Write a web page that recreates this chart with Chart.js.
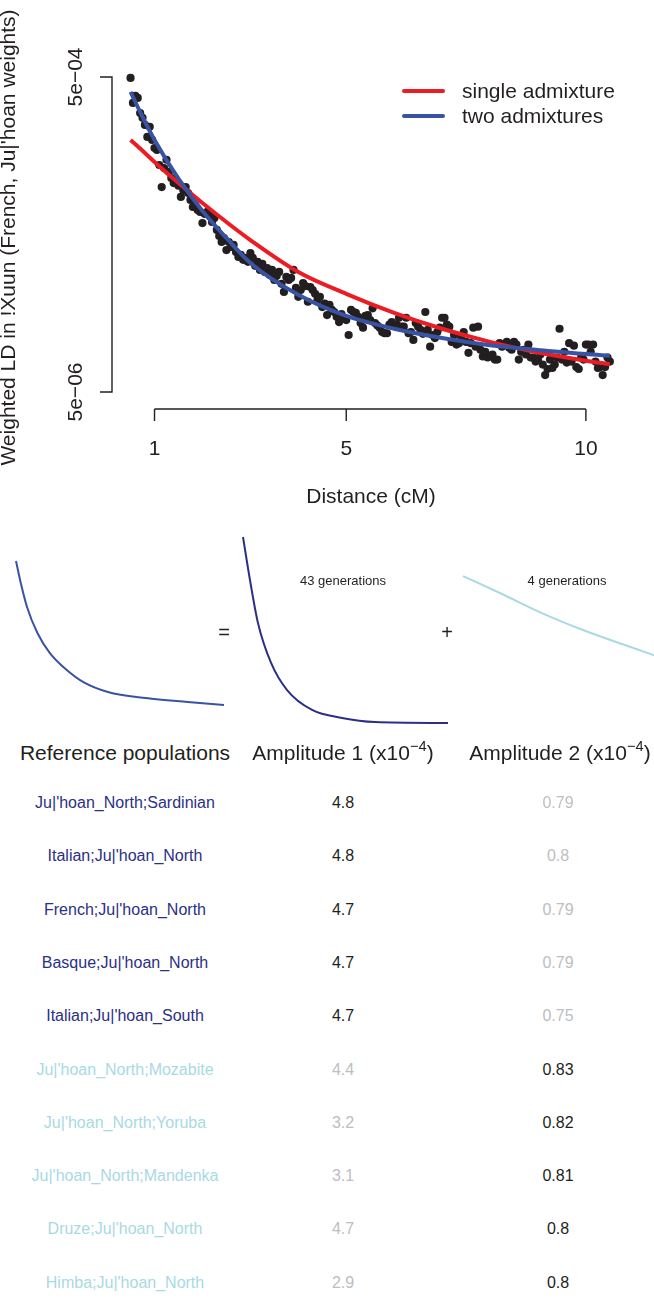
<!DOCTYPE html>
<html>
<head>
<meta charset="utf-8">
<script src="https://cdn.jsdelivr.net/npm/chart.js@4.4.0/dist/chart.umd.min.js"></script>
<style>
  body { margin: 0; width: 654px; height: 1299px; overflow: hidden; background: #fff; position: relative;
         font-family: "Liberation Sans", Arial, Helvetica, sans-serif; color: #231F20; }
  canvas { position: absolute; }
  .txt { position: absolute; transform: translate(-50%, -50%); white-space: nowrap; line-height: 1; }
  sup { font-size: 0.7em; vertical-align: 0.55em; line-height: 0; }
</style>
</head>
<body>
<canvas id="ldChart" width="654" height="520" style="left:0;top:0"></canvas>
<canvas id="mini1" width="228" height="206" style="left:6px;top:527px"></canvas>
<canvas id="mini2" width="225" height="206" style="left:233px;top:527px"></canvas>
<canvas id="mini3" width="225" height="206" style="left:453px;top:527px"></canvas>

<script>
/* ---- data ---- */

// genetic distance bins (cM)
const ldDistance = [
  0.5, 0.55, 0.6, 0.65, 0.7, 0.75, 0.8, 0.85, 0.9, 0.95,
  1.0, 1.05, 1.1, 1.15, 1.2, 1.25, 1.3, 1.35, 1.4, 1.45,
  1.5, 1.55, 1.6, 1.65, 1.7, 1.75, 1.8, 1.85, 1.9, 1.95,
  2.0, 2.05, 2.1, 2.15, 2.2, 2.25, 2.3, 2.35, 2.4, 2.45,
  2.5, 2.55, 2.6, 2.65, 2.7, 2.75, 2.8, 2.85, 2.9, 2.95,
  3.0, 3.05, 3.1, 3.15, 3.2, 3.25, 3.3, 3.35, 3.4, 3.45,
  3.5, 3.55, 3.6, 3.65, 3.7, 3.75, 3.8, 3.85, 3.9, 3.95,
  4.0, 4.05, 4.1, 4.15, 4.2, 4.25, 4.3, 4.35, 4.4, 4.45,
  4.5, 4.55, 4.6, 4.65, 4.7, 4.75, 4.8, 4.85, 4.9, 4.95,
  5.0, 5.05, 5.1, 5.15, 5.2, 5.25, 5.3, 5.35, 5.4, 5.45,
  5.5, 5.55, 5.6, 5.65, 5.7, 5.75, 5.8, 5.85, 5.9, 5.95,
  6.0, 6.05, 6.1, 6.15, 6.2, 6.25, 6.3, 6.35, 6.4, 6.45,
  6.5, 6.55, 6.6, 6.65, 6.7, 6.75, 6.8, 6.85, 6.9, 6.95,
  7.0, 7.05, 7.1, 7.15, 7.2, 7.25, 7.3, 7.35, 7.4, 7.45,
  7.5, 7.55, 7.6, 7.65, 7.7, 7.75, 7.8, 7.85, 7.9, 7.95,
  8.0, 8.05, 8.1, 8.15, 8.2, 8.25, 8.3, 8.35, 8.4, 8.45,
  8.5, 8.55, 8.6, 8.65, 8.7, 8.75, 8.8, 8.85, 8.9, 8.95,
  9.0, 9.05, 9.1, 9.15, 9.2, 9.25, 9.3, 9.35, 9.4, 9.45,
  9.5, 9.55, 9.6, 9.65, 9.7, 9.75, 9.8, 9.85, 9.9, 9.95,
  10.0, 10.05, 10.1, 10.15, 10.2, 10.25, 10.3, 10.35, 10.4, 10.45, 10.5
];

// weighted LD, in units of 1e-5
const ldWeighted = [
  49.3, 34.2, 37.9, 36.8, 29.5, 27.5, 24.8, 20.8, 24.1, 19.9,
  17.7, 17.2, 13.8, 10.0, 13.2, 14.9, 12.5, 11.4, 10.6, 11.1,
  10.2, 8.65, 9.59, 10.0, 9.17, 8.28, 7.47, 7.69, 7.16, 6.95,
  5.91, 6.75, 6.95, 6.56, 6.00, 6.37, 5.34, 4.89, 4.48, 4.75,
  3.98, 4.48, 4.17, 4.29, 3.87, 3.60, 3.71, 3.45, 3.55, 3.35,
  3.81, 3.55, 3.16, 3.35, 2.98, 3.25, 2.89, 3.06, 2.77, 2.98,
  2.57, 2.73, 2.89, 2.43, 2.16, 2.69, 2.57, 2.65, 2.98, 2.29,
  2.01, 2.22, 2.46, 2.35, 1.87, 2.32, 2.22, 2.10, 1.92, 2.01,
  1.73, 1.82, 1.54, 1.79, 1.66, 1.61, 1.50, 1.39, 1.56, 1.48,
  1.43, 1.15, 1.66, 1.61, 1.59, 1.50, 1.37, 1.28, 1.52, 1.54,
  1.43, 1.70, 1.37, 1.32, 1.28, 1.20, 1.18, 1.18, 1.34, 1.39,
  1.32, 1.34, 1.48, 1.30, 1.30, 1.48, 1.18, 1.20, 1.07, 1.37,
  1.30, 1.24, 1.17, 1.61, 1.24, 0.97, 1.15, 1.10, 1.20, 1.28,
  1.48, 1.48, 1.34, 1.30, 1.04, 1.15, 1.00, 1.02, 1.10, 1.20,
  1.04, 0.887, 1.02, 1.28, 0.97, 1.30, 0.927, 0.84, 0.90, 0.828,
  0.84, 0.865, 0.803, 0.803, 1.02, 0.97, 1.00, 1.04, 0.956, 0.927,
  1.04, 1.00, 0.803, 0.90, 0.927, 0.865, 1.00, 0.828, 0.828, 0.78,
  0.803, 0.865, 0.747, 0.64, 0.70, 0.803, 0.71, 0.747, 0.828, 1.26,
  0.803, 0.90, 0.769, 1.02, 0.78, 0.984, 0.72, 0.70, 0.828, 0.803,
  1.00, 1.00, 0.90, 1.00, 0.78, 0.71, 0.72, 0.64, 0.72, 0.828, 0.78
];

// fitted curves (units of 1e-5)
const fitDistance = [0.5, 0.75, 1, 1.5, 2, 2.5, 3, 4, 5, 6, 7, 8, 9, 10, 10.5];
const singleFit   = [19.9, 17.0, 14.4, 10.6, 7.92, 6.00, 4.61, 2.89, 2.10, 1.59, 1.26, 1.04, 0.89, 0.79, 0.75];
const twoFit      = [40.2, 27.9, 19.9, 11.3, 7.05, 4.75, 3.30, 2.07, 1.52, 1.26, 1.10, 0.99, 0.925, 0.87, 0.85];

const yTickValues = [5e-4, 5e-6];
const yTickLabels = ['5e\u221204', '5e\u221206'];
const xTickValues = [1, 5, 10];

// decomposition thumbnails (relative LD)
const sumX  = [0.5, 0.73, 1.03, 1.53, 2.13, 2.94, 3.74, 4.92, 6.75, 8.75, 10.5];
const sumY  = [0.871, 0.753, 0.624, 0.484, 0.376, 0.285, 0.220, 0.167, 0.134, 0.113, 0.097];
const comp1X = [0.5, 0.84, 1.23, 1.87, 2.65, 3.87, 5.33, 6.94, 10.5];
const comp1Y = [1.0, 0.769, 0.538, 0.323, 0.177, 0.070, 0.027, 0.005, 0.0];
const comp2X = [0.5, 2.3, 4.35, 6.35, 8.4, 9.77, 10.5];
const comp2Y = [0.790, 0.699, 0.591, 0.500, 0.419, 0.366, 0.339];
const generations = [43, 4];

// reference population table
const populations = [
  "Ju|'hoan_North;Sardinian", "Italian;Ju|'hoan_North", "French;Ju|'hoan_North",
  "Basque;Ju|'hoan_North", "Italian;Ju|'hoan_South", "Ju|'hoan_North;Mozabite",
  "Ju|'hoan_North;Yoruba", "Ju|'hoan_North;Mandenka", "Druze;Ju|'hoan_North",
  "Himba;Ju|'hoan_North"
];
const amplitude1 = [4.8, 4.8, 4.7, 4.7, 4.7, 4.4, 3.2, 3.1, 4.7, 2.9];
const amplitude2 = [0.79, 0.8, 0.79, 0.79, 0.75, 0.83, 0.82, 0.81, 0.8, 0.8];
const dominant   = [1, 1, 1, 1, 1, 2, 2, 2, 2, 2];

/* ---- styling ---- */
const INK   = '#231F20';
const RED   = '#EC1C24';
const BLUE  = '#3953A4';
const NAVY  = '#2B3086';
const LIGHT = '#A9D9E4';
const FADED = '#BCBEC0';
const FONT  = '"Liberation Sans", Arial, Helvetica, sans-serif';

// R-style detached axes, titles and legend
const rAxes = {
  id: 'rAxes',
  afterDraw(chart) {
    const { ctx, chartArea: a, scales: { x, y } } = chart;
    ctx.save();
    ctx.strokeStyle = INK;
    ctx.fillStyle = INK;
    ctx.lineWidth = 1.4;
    ctx.font = '21px ' + FONT;

    // y axis
    const yTop = y.getPixelForValue(yTickValues[0]);
    const yBot = y.getPixelForValue(yTickValues[1]);
    ctx.beginPath();
    ctx.moveTo(a.left - 12, yTop);
    ctx.lineTo(a.left, yTop);
    ctx.lineTo(a.left, yBot);
    ctx.lineTo(a.left - 12, yBot);
    ctx.stroke();
    ctx.textAlign = 'center';
    ctx.textBaseline = 'alphabetic';
    yTickValues.forEach((v, i) => {
      ctx.save();
      ctx.translate(82, y.getPixelForValue(v));
      ctx.rotate(-Math.PI / 2);
      ctx.fillText(yTickLabels[i], 0, 0);
      ctx.restore();
    });
    ctx.save();
    ctx.translate(15, (a.top + a.bottom) / 2 + 2);
    ctx.rotate(-Math.PI / 2);
    ctx.fillText("Weighted LD in !Xuun (French, Ju|'hoan weights)", 0, 0);
    ctx.restore();

    // x axis
    const xl = x.getPixelForValue(xTickValues[0]);
    const xr = x.getPixelForValue(xTickValues[xTickValues.length - 1]);
    ctx.beginPath();
    ctx.moveTo(xl, a.bottom);
    ctx.lineTo(xr, a.bottom);
    xTickValues.forEach(v => {
      const px = x.getPixelForValue(v);
      ctx.moveTo(px, a.bottom);
      ctx.lineTo(px, a.bottom + 12);
    });
    ctx.stroke();
    xTickValues.forEach(v => ctx.fillText(String(v), x.getPixelForValue(v), a.bottom + 46));
    ctx.fillText('Distance (cM)', (a.left + a.right) / 2, a.bottom + 94);

    // legend
    ctx.textAlign = 'left';
    ctx.textBaseline = 'middle';
    ctx.lineWidth = 4;
    ctx.lineCap = 'round';
    [1, 2].forEach((di, k) => {
      const ds = chart.data.datasets[di];
      const ly = 91 + k * 25;
      ctx.strokeStyle = ds.borderColor;
      ctx.beginPath();
      ctx.moveTo(404, ly);
      ctx.lineTo(443, ly);
      ctx.stroke();
      ctx.fillText(ds.label, 462, ly + 1);
    });
    ctx.restore();
  }
};

new Chart(document.getElementById('ldChart'), {
  type: 'scatter',
  data: {
    datasets: [
      {
        label: 'data',
        data: ldDistance.map((d, i) => ({ x: d, y: ldWeighted[i] * 1e-5 })),
        pointRadius: 4.1,
        pointBackgroundColor: INK,
        pointBorderWidth: 0,
        order: 3,
        clip: false,
      },
      {
        label: 'single admixture',
        data: fitDistance.map((d, i) => ({ x: d, y: singleFit[i] * 1e-5 })),
        showLine: true,
        borderColor: RED,
        borderWidth: 4,
        pointRadius: 0,
        cubicInterpolationMode: 'monotone',
        order: 2,
        clip: false,
      },
      {
        label: 'two admixtures',
        data: fitDistance.map((d, i) => ({ x: d, y: twoFit[i] * 1e-5 })),
        showLine: true,
        borderColor: BLUE,
        borderWidth: 4,
        pointRadius: 0,
        cubicInterpolationMode: 'monotone',
        order: 1,
        clip: false,
      },
    ],
  },
  options: {
    responsive: false,
    animation: false,
    layout: { padding: { left: 112, right: 24, top: 62, bottom: 111 } },
    plugins: { legend: { display: false }, tooltip: { enabled: false } },
    scales: {
      x: { type: 'linear', min: 0.113, max: 10.92, bounds: 'data', display: false },
      y: { type: 'logarithmic', min: 3.9e-6, max: 6.22e-4, bounds: 'data', display: false },
    },
  },
  plugins: [rAxes],
});

function miniChart(id, xs, ys, color) {
  return new Chart(document.getElementById(id), {
    type: 'scatter',
    data: {
      datasets: [{
        data: xs.map((d, i) => ({ x: d, y: ys[i] })),
        showLine: true,
        borderColor: color,
        borderWidth: 2,
        pointRadius: 0,
        cubicInterpolationMode: 'monotone',
        clip: false,
      }],
    },
    options: {
      responsive: false,
      animation: false,
      layout: { padding: 10 },
      plugins: { legend: { display: false }, tooltip: { enabled: false } },
      scales: {
        x: { type: 'linear', min: 0.5, max: 10.5, bounds: 'data', display: false },
        y: { type: 'linear', min: 0, max: 1, bounds: 'data', display: false },
      },
    },
  });
}

miniChart('mini1', sumX, sumY, BLUE);
miniChart('mini2', comp1X, comp1Y, NAVY);
miniChart('mini3', comp2X, comp2Y, LIGHT);

function addText(html, x, y, size, color) {
  const el = document.createElement('div');
  el.className = 'txt';
  el.innerHTML = html;
  el.style.left = x + 'px';
  el.style.top = y + 'px';
  el.style.fontSize = size + 'px';
  el.style.color = color;
  document.body.appendChild(el);
}

addText(generations[0] + ' generations', 343, 580, 13, INK);
addText(generations[1] + ' generations', 567, 580, 13, INK);
addText('=', 224, 632, 20, INK);
addText('+', 447, 632, 20, INK);

addText('Reference populations', 125, 752, 21, INK);
addText('Amplitude 1 (x10<sup>\u22124</sup>)', 343, 752, 21, INK);
addText('Amplitude 2 (x10<sup>\u22124</sup>)', 560, 752, 21, INK);

populations.forEach((name, i) => {
  const y = 803 + i * 53.3;
  const first = dominant[i] === 1;
  addText(name, 125, y, 16, first ? NAVY : LIGHT);
  addText(String(amplitude1[i]), 343, y, 16, first ? INK : FADED);
  addText(String(amplitude2[i]), 558, y, 16, first ? FADED : INK);
});
</script>
</body>
</html>
